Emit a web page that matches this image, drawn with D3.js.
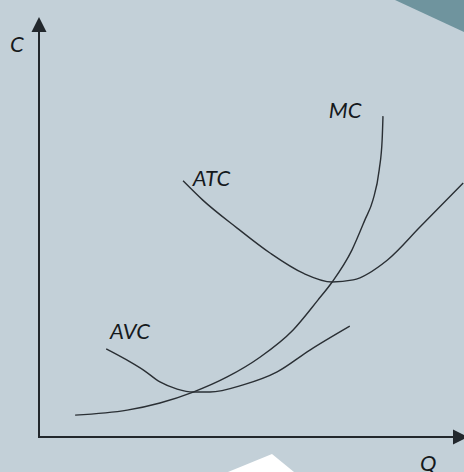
<!DOCTYPE html>
<html>
<head>
<meta charset="utf-8">
<script src="https://cdn.jsdelivr.net/npm/d3@7"></script>
<style>
  html, body { margin: 0; padding: 0; background: #c3d0d8; }
  svg { display: block; }
  text { font-family: Lato, "Open Sans", sans-serif; font-style: italic; fill: #15191c; }
</style>
</head>
<body>
<svg width="464" height="472"></svg>
<script>
// cost curves (Q, C in axis units 0..100)
const mc = [[8.6, 5.2], [21.0, 6.4], [28.8, 8.1], [36.7, 10.7], [44.8, 14.3], [52.6, 19.0],
  [60.5, 25.5], [66.4, 32.6], [69.8, 36.9], [74.5, 44.5], [77.6, 51.7], [79.5, 56.4],
  [81.0, 63.6], [81.7, 70.7], [81.9, 76.4]]
const avc = [[16.0, 21.0], [21.0, 18.3], [24.8, 16.0], [28.8, 13.1], [32.9, 11.4], [36.7, 10.7],
  [40.7, 10.7], [48.6, 12.4], [56.7, 15.5], [64.5, 20.7], [74.0, 26.4]]
const atc = [[34.3, 61.0], [39.0, 56.4], [47.1, 49.8], [55.0, 43.8], [62.9, 39.0], [69.8, 36.9],
  [74.8, 37.4], [82.9, 42.1], [90.7, 50.0], [101.0, 60.5]]
const curveLabels = [
  { text: "MC", q: 69.0, c: 76.0 },
  { text: "ATC", q: 36.6, c: 59.8 },
  { text: "AVC", q: 16.9, c: 23.3 }
]
const axisLabels = { y: "C", x: "Q" }

const svg = d3.select("svg")
const width = +svg.attr("width")
const height = +svg.attr("height")

const x = d3.scaleLinear().domain([0, 100]).range([39, 459])
const y = d3.scaleLinear().domain([0, 100]).range([437, 17])

// background decoration shapes
svg.append("polygon")
  .attr("points", "395,0 464,0 464,32")
  .attr("fill", "#6f949e")
svg.append("polygon")
  .attr("points", "228,472 272,454 294,472")
  .attr("fill", "#ffffff")

// axes with arrows
const axisColor = "#22272c"
svg.append("line")
  .attr("x1", x(0)).attr("y1", y(0) + 1)
  .attr("x2", x(0)).attr("y2", y(100) + 12)
  .attr("stroke", axisColor).attr("stroke-width", 2)
svg.append("polygon")
  .attr("points", [[x(0), y(100)], [x(0) - 7.5, y(100) + 15], [x(0) + 7.5, y(100) + 15]].join(" "))
  .attr("fill", axisColor)
svg.append("line")
  .attr("x1", x(0) - 1).attr("y1", y(0))
  .attr("x2", 456).attr("y2", y(0))
  .attr("stroke", axisColor).attr("stroke-width", 2)
svg.append("polygon")
  .attr("points", [[453, y(0) - 7.5], [468, y(0)], [453, y(0) + 7.5]].join(" "))
  .attr("fill", axisColor)

const line = d3.line()
  .x((d) => x(d[0]))
  .y((d) => y(d[1]))
  .curve(d3.curveMonotoneX)

svg.append("g")
  .attr("fill", "none")
  .attr("stroke", "#2a2f34")
  .attr("stroke-width", 1.4)
  .selectAll("path")
  .data([mc, avc, atc])
  .enter()
  .append("path")
  .attr("d", line)

svg.selectAll(".curve-label")
  .data(curveLabels)
  .enter()
  .append("text")
  .attr("class", "curve-label")
  .attr("x", (d) => x(d.q))
  .attr("y", (d) => y(d.c))
  .attr("font-size", 22)
  .text((d) => d.text)

svg.append("text")
  .attr("x", 10).attr("y", 52)
  .attr("font-size", 22)
  .text(axisLabels.y)
svg.append("text")
  .attr("x", 420).attr("y", 471)
  .attr("font-size", 22)
  .text(axisLabels.x)
</script>
</body>
</html>
